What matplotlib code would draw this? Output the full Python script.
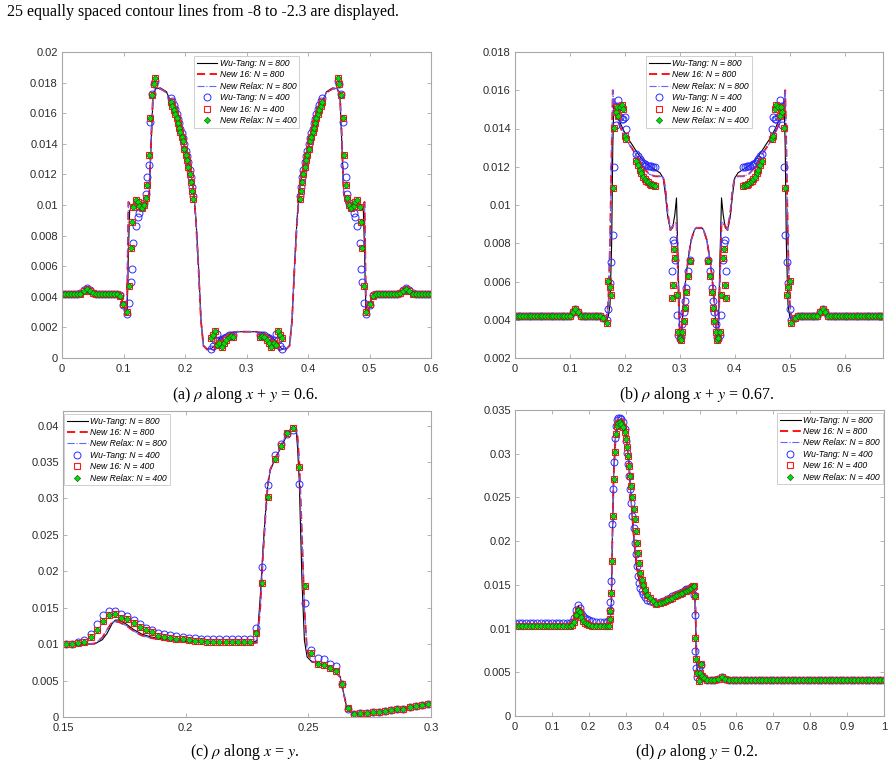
import matplotlib
matplotlib.use('Agg')
import matplotlib.pyplot as plt
import matplotlib.ticker as mticker

plt.rcParams['font.family'] = ['Liberation Sans', 'DejaVu Sans']
plt.rcParams['mathtext.fontset'] = 'stix'

# ---------------- panel (a): rho along x + y = 0.6 ----------------
a_line_x = [0.000, 0.020, 0.030, 0.040, 0.050, 0.060, 0.090, 0.096, 0.100, 0.104, 0.106, 0.108, 0.110, 0.114,
            0.120, 0.126, 0.132, 0.138, 0.142, 0.145, 0.148, 0.152, 0.160, 0.170, 0.180, 0.190, 0.200, 0.208,
            0.214, 0.218, 0.222, 0.226, 0.230, 0.236, 0.242, 0.247, 0.252, 0.258, 0.265, 0.275, 0.285, 0.300,
            0.315, 0.325, 0.335, 0.342, 0.348, 0.353, 0.358, 0.364, 0.370, 0.374, 0.378, 0.382, 0.386, 0.392,
            0.400, 0.410, 0.420, 0.430, 0.440, 0.448, 0.452, 0.455, 0.458, 0.462, 0.468, 0.474, 0.480, 0.486,
            0.490, 0.492, 0.494, 0.496, 0.500, 0.504, 0.510, 0.540, 0.550, 0.560, 0.570, 0.580, 0.600]
a_wt800 = [0.00418, 0.00418, 0.00425, 0.00450, 0.00428, 0.00418, 0.00418, 0.00405, 0.00340, 0.00285, 0.00300,
           0.00700, 0.00960, 0.01000, 0.01020, 0.01000, 0.00990, 0.01010, 0.01080, 0.01400, 0.01700, 0.01760,
           0.01765, 0.01740, 0.01640, 0.01530, 0.01380, 0.01250, 0.01100, 0.00900, 0.00600, 0.00250, 0.00080,
           0.00058, 0.00060, 0.00075, 0.00110, 0.00135, 0.00150, 0.00165, 0.00172, 0.00172,
           0.00172, 0.00165, 0.00150, 0.00135, 0.00110, 0.00075, 0.00060, 0.00058, 0.00080, 0.00250, 0.00600,
           0.00900, 0.01100, 0.01250, 0.01380, 0.01530, 0.01640, 0.01740, 0.01765, 0.01760, 0.01700, 0.01400,
           0.01080, 0.01010, 0.00990, 0.01000, 0.01020, 0.01000, 0.00960, 0.00700, 0.00300, 0.00285, 0.00340,
           0.00405, 0.00418, 0.00418, 0.00428, 0.00450, 0.00425, 0.00418, 0.00418]
a_new800 = [0.00418, 0.00418, 0.00425, 0.00452, 0.00428, 0.00418, 0.00418, 0.00400, 0.00330, 0.00280, 0.00420,
            0.01020, 0.01005, 0.00990, 0.01030, 0.01000, 0.00990, 0.01020, 0.01080, 0.01450, 0.01720, 0.01760,
            0.01760, 0.01735, 0.01630, 0.01520, 0.01370, 0.01240, 0.01090, 0.00880, 0.00580, 0.00240, 0.00080,
            0.00055, 0.00060, 0.00050, 0.00095, 0.00125, 0.00145, 0.00160, 0.00172, 0.00172,
            0.00172, 0.00160, 0.00145, 0.00125, 0.00095, 0.00050, 0.00060, 0.00055, 0.00080, 0.00240, 0.00580,
            0.00880, 0.01090, 0.01240, 0.01370, 0.01520, 0.01630, 0.01735, 0.01760, 0.01760, 0.01720, 0.01450,
            0.01080, 0.01020, 0.00990, 0.01000, 0.01030, 0.00990, 0.01005, 0.01020, 0.00420, 0.00280, 0.00330,
            0.00400, 0.00418, 0.00418, 0.00428, 0.00452, 0.00425, 0.00418, 0.00418]

a_mk_x = [0.000, 0.005, 0.010, 0.015, 0.020, 0.025, 0.030, 0.035, 0.040, 0.045, 0.050, 0.055, 0.060, 0.065,
          0.070, 0.075, 0.080, 0.085, 0.090,
          0.0945, 0.0990, 0.1052, 0.1095, 0.1122, 0.1138, 0.1162, 0.1197, 0.1230, 0.1260, 0.1295, 0.1330,
          0.1365, 0.1390, 0.1410, 0.1435, 0.1462, 0.1488, 0.1512,
          0.1767, 0.1794, 0.1821, 0.1843, 0.1864, 0.1886, 0.1908, 0.1924, 0.1946, 0.1967, 0.1984, 0.2011,
          0.2033, 0.2054, 0.2076, 0.2092, 0.2114, 0.2136,
          0.2423, 0.2450, 0.2488, 0.2526, 0.2558, 0.2596, 0.2634, 0.2667, 0.2710, 0.2748, 0.2786,
          0.3214, 0.3252, 0.3290, 0.3333, 0.3366, 0.3404, 0.3442, 0.3474, 0.3512, 0.3550, 0.3577,
          0.3864, 0.3886, 0.3908, 0.3924, 0.3946, 0.3967, 0.3989, 0.4016, 0.4033, 0.4054, 0.4076, 0.4092,
          0.4114, 0.4136, 0.4157, 0.4179, 0.4206, 0.4233,
          0.4488, 0.4512, 0.4538, 0.4565, 0.4590, 0.4610, 0.4635, 0.4670, 0.4705, 0.4740, 0.4770, 0.4803,
          0.4838, 0.4862, 0.4878, 0.4905, 0.4948, 0.5010, 0.5055,
          0.510, 0.515, 0.520, 0.525, 0.530, 0.535, 0.540, 0.545, 0.550, 0.555, 0.560, 0.565, 0.570, 0.575,
          0.580, 0.585, 0.590, 0.595, 0.600]
a_new400 = [0.00418, 0.00418, 0.00418, 0.00418, 0.00418, 0.00418, 0.00420, 0.00440, 0.00452, 0.00440, 0.00425,
            0.00418, 0.00418, 0.00418, 0.00418, 0.00418, 0.00418, 0.00418, 0.00418,
            0.00405, 0.00350, 0.00300, 0.00472, 0.00722, 0.00890, 0.00985, 0.01030, 0.01020, 0.00995, 0.00980,
            0.01000, 0.01045, 0.01130, 0.01330, 0.01570, 0.01720, 0.01790, 0.01832,
            0.01670, 0.01648, 0.01622, 0.01596, 0.01567, 0.01535, 0.01502, 0.01478, 0.01447, 0.01421, 0.01369,
            0.01327, 0.01295, 0.01251, 0.01203, 0.01153, 0.01094, 0.01037,
            0.00129, 0.00150, 0.00179, 0.00085, 0.00100, 0.00074, 0.00096, 0.00118, 0.00135, 0.00144, 0.00140,
            0.00140, 0.00144, 0.00135, 0.00118, 0.00096, 0.00074, 0.00100, 0.00085, 0.00179, 0.00150, 0.00129,
            0.01037, 0.01094, 0.01153, 0.01203, 0.01251, 0.01295, 0.01327, 0.01369, 0.01421, 0.01447, 0.01478,
            0.01502, 0.01535, 0.01567, 0.01596, 0.01622, 0.01648, 0.01670,
            0.01832, 0.01790, 0.01720, 0.01570, 0.01330, 0.01130, 0.01045, 0.01000, 0.00980, 0.00995, 0.01020,
            0.01030, 0.00985, 0.00890, 0.00722, 0.00472, 0.00300, 0.00350, 0.00405,
            0.00418, 0.00418, 0.00418, 0.00418, 0.00418, 0.00418, 0.00418, 0.00418, 0.00425, 0.00440, 0.00452,
            0.00440, 0.00420, 0.00418, 0.00418, 0.00418, 0.00418, 0.00418, 0.00418]
a_wt400 = [0.00418, 0.00418, 0.00418, 0.00418, 0.00418, 0.00418, 0.00422, 0.00445, 0.00458, 0.00445, 0.00428,
           0.00418, 0.00418, 0.00418, 0.00418, 0.00418, 0.00418, 0.00418, 0.00418,
           0.00410, 0.00345, 0.00285, 0.00360, 0.00500, 0.00580, 0.00750, 0.00860, 0.00920, 0.00950, 0.00990,
           0.01010, 0.01075, 0.01180, 0.01260, 0.01540, 0.01725, 0.01790, 0.01810,
           0.01700, 0.01680, 0.01655, 0.01625, 0.01595, 0.01565, 0.01535, 0.01500, 0.01470, 0.01440, 0.01400,
           0.01350, 0.01320, 0.01280, 0.01230, 0.01180, 0.01120, 0.01060,
           0.00060, 0.00080, 0.00120, 0.00160, 0.00120, 0.00100, 0.00130, 0.00140, 0.00150, 0.00150, 0.00150,
           0.00150, 0.00150, 0.00150, 0.00140, 0.00130, 0.00100, 0.00120, 0.00160, 0.00120, 0.00080, 0.00060,
           0.01060, 0.01120, 0.01180, 0.01230, 0.01280, 0.01320, 0.01350, 0.01400, 0.01440, 0.01470, 0.01500,
           0.01535, 0.01565, 0.01595, 0.01625, 0.01655, 0.01680, 0.01700,
           0.01810, 0.01790, 0.01725, 0.01540, 0.01260, 0.01180, 0.01075, 0.01010, 0.00990, 0.00950, 0.00920,
           0.00860, 0.00750, 0.00580, 0.00500, 0.00360, 0.00285, 0.00345, 0.00410,
           0.00418, 0.00418, 0.00418, 0.00418, 0.00418, 0.00418, 0.00418, 0.00418, 0.00428, 0.00445, 0.00458,
           0.00445, 0.00422, 0.00418, 0.00418, 0.00418, 0.00418, 0.00418, 0.00418]

# ---------------- panel (b): rho along x + y = 0.67 ----------------
b_line_x = [0.000, 0.095, 0.103, 0.110, 0.117, 0.125, 0.160, 0.166, 0.170, 0.173, 0.176, 0.178, 0.180, 0.182,
            0.185, 0.190, 0.197, 0.205, 0.212, 0.220, 0.227, 0.235, 0.245, 0.255, 0.264, 0.270, 0.274, 0.278,
            0.283, 0.287, 0.291, 0.294, 0.297, 0.300, 0.303, 0.307, 0.312, 0.317, 0.321, 0.327, 0.331, 0.335,
            0.339, 0.343, 0.349, 0.353, 0.358, 0.363, 0.367, 0.370, 0.373, 0.376, 0.379, 0.383, 0.387, 0.392,
            0.396, 0.400, 0.406, 0.415, 0.425, 0.435, 0.443, 0.450, 0.458, 0.465, 0.473, 0.480, 0.485, 0.488,
            0.490, 0.492, 0.494, 0.497, 0.500, 0.504, 0.510, 0.545, 0.553, 0.560, 0.567, 0.575, 0.670]
b_wt800 = [0.00418, 0.00418, 0.00430, 0.00455, 0.00435, 0.00420, 0.00420, 0.00390, 0.00420, 0.00480, 0.00800,
           0.01300, 0.01540, 0.01500, 0.01470, 0.01440, 0.01394, 0.01350, 0.01321, 0.01285, 0.01255, 0.01225,
           0.01203, 0.01185, 0.01168, 0.01140, 0.01050, 0.00940, 0.00871, 0.00880, 0.00950, 0.01037, 0.00700,
           0.00320, 0.00320, 0.00500, 0.00645, 0.00750, 0.00819, 0.00872, 0.00882, 0.00878,
           0.00882, 0.00872, 0.00819, 0.00750, 0.00645, 0.00500, 0.00320, 0.00320, 0.00700, 0.01037, 0.00950,
           0.00880, 0.00871, 0.00940, 0.01050, 0.01140, 0.01168, 0.01185, 0.01203, 0.01225, 0.01255, 0.01285,
           0.01321, 0.01350, 0.01394, 0.01440, 0.01470, 0.01500, 0.01540, 0.01300, 0.00800, 0.00480, 0.00420,
           0.00390, 0.00420, 0.00420, 0.00435, 0.00455, 0.00430, 0.00418, 0.00418]
b_new800 = [0.00418, 0.00418, 0.00430, 0.00455, 0.00435, 0.00420, 0.00420, 0.00385, 0.00500, 0.00800, 0.01300,
            0.01600, 0.01550, 0.01480, 0.01450, 0.01420, 0.01370, 0.01330, 0.01300, 0.01265, 0.01230, 0.01190,
            0.01160, 0.01150, 0.01150, 0.01145, 0.01080, 0.00960, 0.00868, 0.00890, 0.00905, 0.00910, 0.00600,
            0.00300, 0.00330, 0.00490, 0.00645, 0.00750, 0.00819, 0.00872, 0.00882, 0.00878,
            0.00882, 0.00872, 0.00819, 0.00750, 0.00645, 0.00490, 0.00330, 0.00300, 0.00600, 0.00910, 0.00905,
            0.00890, 0.00868, 0.00960, 0.01080, 0.01145, 0.01150, 0.01150, 0.01160, 0.01190, 0.01230, 0.01265,
            0.01300, 0.01330, 0.01370, 0.01420, 0.01450, 0.01480, 0.01550, 0.01600, 0.01300, 0.00800, 0.00500,
            0.00385, 0.00420, 0.00420, 0.00435, 0.00455, 0.00430, 0.00418, 0.00418]

b_mk_x = [0.000, 0.005, 0.010, 0.015, 0.020, 0.025, 0.030, 0.035, 0.040, 0.045, 0.050, 0.055, 0.060, 0.065,
          0.070, 0.075, 0.080, 0.085, 0.090, 0.095, 0.100, 0.105, 0.110, 0.115, 0.120, 0.125, 0.130, 0.135,
          0.140, 0.145, 0.150, 0.155, 0.160,
          0.1667, 0.1700, 0.1727, 0.1745, 0.1776, 0.1806, 0.1836, 0.1861, 0.1879, 0.1912, 0.1939, 0.1964,
          0.2000, 0.2030,
          0.2212, 0.2242, 0.2273, 0.2303, 0.2333, 0.2364, 0.2394, 0.2424, 0.2455, 0.2485, 0.2515, 0.2545,
          0.2860, 0.2875, 0.2895, 0.2905, 0.2952, 0.2975, 0.2995, 0.3018, 0.3048, 0.3073, 0.3100, 0.3121,
          0.3152, 0.3182,
          0.3518, 0.3548, 0.3579, 0.3600, 0.3627, 0.3652, 0.3682, 0.3705, 0.3725, 0.3748, 0.3795, 0.3805,
          0.3825, 0.3840,
          0.4155, 0.4185, 0.4215, 0.4245, 0.4276, 0.4306, 0.4336, 0.4367, 0.4397, 0.4427, 0.4458, 0.4488,
          0.4670, 0.4700, 0.4736, 0.4761, 0.4788, 0.4821, 0.4839, 0.4864, 0.4894, 0.4924, 0.4955, 0.4973,
          0.5000, 0.5033,
          0.510, 0.515, 0.520, 0.525, 0.530, 0.535, 0.540, 0.545, 0.550, 0.555, 0.560, 0.565, 0.570, 0.575,
          0.580, 0.585, 0.590, 0.595, 0.600, 0.605, 0.610, 0.615, 0.620, 0.625, 0.630, 0.635, 0.640, 0.645,
          0.650, 0.655, 0.660, 0.665, 0.670]
b_new400 = [0.00418, 0.00418, 0.00418, 0.00418, 0.00418, 0.00418, 0.00418, 0.00418, 0.00418, 0.00418, 0.00418,
            0.00418, 0.00418, 0.00418, 0.00418, 0.00418, 0.00418, 0.00418, 0.00418, 0.00418, 0.00420, 0.00440,
            0.00455, 0.00440, 0.00422, 0.00418, 0.00418, 0.00418, 0.00418, 0.00418, 0.00418, 0.00418, 0.00410,
            0.00383, 0.00604, 0.00573, 0.00528, 0.01087, 0.01405, 0.01485, 0.01510, 0.01465, 0.01510, 0.01522,
            0.01503, 0.01362, 0.01346,
            0.01229, 0.01208, 0.01185, 0.01168, 0.01147, 0.01135, 0.01126, 0.01118, 0.01112, 0.01107, 0.01103,
            0.01100,
            0.00514, 0.00584, 0.00770, 0.00723, 0.00528, 0.00335, 0.00305, 0.00296, 0.00335, 0.00392, 0.00460,
            0.00545, 0.00627, 0.00705,
            0.00705, 0.00627, 0.00545, 0.00460, 0.00392, 0.00335, 0.00296, 0.00305, 0.00335, 0.00528, 0.00723,
            0.00770, 0.00584, 0.00514,
            0.01100, 0.01103, 0.01107, 0.01112, 0.01118, 0.01126, 0.01135, 0.01147, 0.01168, 0.01185, 0.01208,
            0.01229,
            0.01346, 0.01362, 0.01503, 0.01522, 0.01510, 0.01465, 0.01510, 0.01485, 0.01405, 0.01087, 0.00528,
            0.00573, 0.00604, 0.00383,
            0.00410, 0.00418, 0.00418, 0.00418, 0.00418, 0.00418, 0.00418, 0.00418, 0.00422, 0.00440, 0.00455,
            0.00440, 0.00420, 0.00418, 0.00418, 0.00418, 0.00418, 0.00418, 0.00418, 0.00418, 0.00418, 0.00418,
            0.00418, 0.00418, 0.00418, 0.00418, 0.00418, 0.00418, 0.00418, 0.00418, 0.00418, 0.00418, 0.00418]
b_wt400 = [0.00418, 0.00418, 0.00418, 0.00418, 0.00418, 0.00418, 0.00418, 0.00418, 0.00418, 0.00418, 0.00418,
           0.00418, 0.00418, 0.00418, 0.00418, 0.00418, 0.00418, 0.00418, 0.00418, 0.00418, 0.00420, 0.00440,
           0.00455, 0.00440, 0.00422, 0.00418, 0.00418, 0.00418, 0.00418, 0.00418, 0.00418, 0.00418, 0.00410,
           0.00400, 0.00455, 0.00590, 0.00700, 0.00845, 0.01200, 0.01420, 0.01520, 0.01550, 0.01460, 0.01450,
           0.01450, 0.01460, 0.01400,
           0.01265, 0.01255, 0.01240, 0.01232, 0.01222, 0.01215, 0.01208, 0.01205, 0.01203, 0.01202, 0.01200,
           0.01200,
           0.00653, 0.00819, 0.00800, 0.00714, 0.00427, 0.00320, 0.00300, 0.00310, 0.00380, 0.00440, 0.00500,
           0.00566, 0.00653, 0.00714,
           0.00714, 0.00653, 0.00566, 0.00500, 0.00440, 0.00380, 0.00310, 0.00300, 0.00320, 0.00427, 0.00714,
           0.00800, 0.00819, 0.00653,
           0.01200, 0.01200, 0.01202, 0.01203, 0.01205, 0.01208, 0.01215, 0.01222, 0.01232, 0.01240, 0.01255,
           0.01265,
           0.01400, 0.01460, 0.01450, 0.01450, 0.01460, 0.01550, 0.01520, 0.01420, 0.01200, 0.00845, 0.00700,
           0.00590, 0.00455, 0.00400,
           0.00410, 0.00418, 0.00418, 0.00418, 0.00418, 0.00418, 0.00418, 0.00418, 0.00422, 0.00440, 0.00455,
           0.00440, 0.00420, 0.00418, 0.00418, 0.00418, 0.00418, 0.00418, 0.00418, 0.00418, 0.00418, 0.00418,
           0.00418, 0.00418, 0.00418, 0.00418, 0.00418, 0.00418, 0.00418, 0.00418, 0.00418, 0.00418, 0.00418]

# ---------------- panel (c): rho along x = y ----------------
c_line_x = [0.150, 0.160, 0.163, 0.166, 0.168, 0.170, 0.1713, 0.173, 0.176, 0.1788, 0.182, 0.1856, 0.1924,
            0.1992, 0.2128, 0.2264, 0.2291, 0.2304, 0.2315, 0.2325, 0.2335, 0.2345, 0.2365, 0.2386, 0.2406,
            0.2427, 0.2440, 0.2450, 0.2456, 0.2463, 0.2474, 0.2484, 0.2495, 0.2515, 0.2542, 0.2569, 0.2603,
            0.2630, 0.2644, 0.2658, 0.2685, 0.2739, 0.2807, 0.2875, 0.2943, 0.3000]
c_wt800 = [0.01000, 0.01000, 0.01005, 0.01060, 0.01150, 0.01280, 0.01330, 0.01330, 0.01270, 0.01200, 0.01140,
           0.01100, 0.01060, 0.01040, 0.01020, 0.01007, 0.01050, 0.01648, 0.02300, 0.02790, 0.03200, 0.03387,
           0.03547, 0.03684, 0.03822, 0.03936, 0.03990, 0.03960, 0.03700, 0.03250, 0.01876, 0.01053, 0.00824,
           0.00755, 0.00741, 0.00709, 0.00641, 0.00549, 0.00320, 0.00114, 0.00046, 0.00055, 0.00078, 0.00114,
           0.00151, 0.00192]
c_new800 = [0.01000, 0.01000, 0.01010, 0.01090, 0.01200, 0.01300, 0.01310, 0.01300, 0.01250, 0.01180, 0.01120,
            0.01085, 0.01050, 0.01035, 0.01020, 0.01007, 0.01020, 0.01500, 0.02200, 0.02750, 0.03200, 0.03400,
            0.03550, 0.03700, 0.03850, 0.03950, 0.03990, 0.03950, 0.03850, 0.03500, 0.02500, 0.01500, 0.00900,
            0.00760, 0.00740, 0.00710, 0.00640, 0.00550, 0.00330, 0.00110, 0.00046, 0.00055, 0.00078, 0.00114,
            0.00151, 0.00192]
c_mk_x = [0.15125, 0.15375, 0.15625, 0.15875, 0.16125, 0.16375, 0.16625, 0.16875, 0.17125, 0.17375, 0.17625,
          0.17875, 0.18125, 0.18375, 0.18625, 0.18875, 0.19125, 0.19375, 0.19625, 0.19875, 0.20125, 0.20375,
          0.20625, 0.20875, 0.21125, 0.21375, 0.21625, 0.21875, 0.22125, 0.22375, 0.22625, 0.22875, 0.23125,
          0.23375, 0.23625, 0.23875, 0.24125, 0.24375, 0.24625, 0.24875, 0.25125, 0.25375, 0.25625, 0.25875,
          0.26125, 0.26375, 0.26625, 0.26875, 0.27125, 0.27375, 0.27625, 0.27875, 0.28125, 0.28375, 0.28625,
          0.28875, 0.29125, 0.29375, 0.29625, 0.29875]
c_new400 = [0.01007, 0.01007, 0.01016, 0.01030, 0.01098, 0.01190, 0.01318, 0.01396, 0.01410, 0.01364, 0.01346,
            0.01291, 0.01236, 0.01199, 0.01167, 0.01117, 0.01094, 0.01080, 0.01071, 0.01066, 0.01053, 0.01048,
            0.01039, 0.01034, 0.01034, 0.01030, 0.01030, 0.01030, 0.01030, 0.01030, 0.01030, 0.01153, 0.01840,
            0.03020, 0.03538, 0.03721, 0.03904, 0.03968, 0.03432, 0.01803, 0.00879, 0.00732, 0.00709, 0.00677,
            0.00627, 0.00458, 0.00124, 0.00046, 0.00055, 0.00055, 0.00064, 0.00073, 0.00078, 0.00092, 0.00105,
            0.00114, 0.00137, 0.00146, 0.00160, 0.00178]
c_wt400 = [0.01007, 0.01007, 0.01030, 0.01062, 0.01144, 0.01277, 0.01396, 0.01451, 0.01451, 0.01419, 0.01387,
           0.01327, 0.01272, 0.01222, 0.01190, 0.01158, 0.01135, 0.01121, 0.01108, 0.01094, 0.01089, 0.01085,
           0.01076, 0.01071, 0.01071, 0.01071, 0.01071, 0.01071, 0.01071, 0.01071, 0.01076, 0.01227, 0.02060,
           0.03181, 0.03593, 0.03753, 0.03890, 0.03936, 0.03204, 0.01565, 0.00924, 0.00815, 0.00801, 0.00732,
           0.00696, 0.00449, 0.00114, 0.00046, 0.00055, 0.00055, 0.00064, 0.00073, 0.00078, 0.00092, 0.00105,
           0.00114, 0.00137, 0.00146, 0.00160, 0.00178]

# ---------------- panel (d): rho along y = 0.2 ----------------
d_line_x = [0.000, 0.150, 0.158, 0.163, 0.168, 0.172, 0.177, 0.183, 0.190, 0.200, 0.220, 0.250, 0.256, 0.259,
            0.261, 0.2638, 0.2674, 0.2728, 0.2791, 0.2882, 0.2972, 0.3017, 0.3062, 0.3107, 0.3152, 0.3198,
            0.3243, 0.3288, 0.3378, 0.3514, 0.3649, 0.3830, 0.3920, 0.4101, 0.4372, 0.4643, 0.4823, 0.4868,
            0.4895, 0.4913, 0.4958, 0.5004, 0.5500, 0.5600, 0.5700, 1.0000]
d_wt800 = [0.01050, 0.01050, 0.01070, 0.01150, 0.01240, 0.01260, 0.01200, 0.01120, 0.01080, 0.01065, 0.01055,
           0.01050, 0.01060, 0.01150, 0.01263, 0.02020, 0.02790, 0.03250, 0.03350, 0.03400, 0.03350, 0.03200,
           0.03010, 0.02740, 0.02430, 0.02130, 0.01900, 0.01710, 0.01520, 0.01400, 0.01350, 0.01290, 0.01270,
           0.01310, 0.01370, 0.01420, 0.01460, 0.01440, 0.01020, 0.00640, 0.00450, 0.00410, 0.00410, 0.00440,
           0.00410, 0.00410]
d_new800 = [0.01045, 0.01045, 0.01050, 0.01120, 0.01215, 0.01225, 0.01180, 0.01100, 0.01070, 0.01060, 0.01050,
            0.01045, 0.01060, 0.01150, 0.01263, 0.02000, 0.02750, 0.03200, 0.03320, 0.03370, 0.03330, 0.03200,
            0.03030, 0.02770, 0.02470, 0.02180, 0.01950, 0.01760, 0.01560, 0.01420, 0.01360, 0.01300, 0.01285,
            0.01315, 0.01370, 0.01420, 0.01470, 0.01460, 0.01200, 0.00800, 0.00480, 0.00410, 0.00410, 0.00440,
            0.00410, 0.00410]
d_mk_x = [0.000, 0.010, 0.020, 0.030, 0.040, 0.050, 0.060, 0.070, 0.080, 0.090, 0.100, 0.110, 0.120, 0.130,
          0.140, 0.150,
          0.155, 0.160, 0.165, 0.170, 0.175, 0.180, 0.185, 0.190, 0.195, 0.200, 0.210, 0.220, 0.230, 0.240,
          0.250,
          0.2547, 0.2566, 0.2584, 0.2611, 0.2638, 0.2656, 0.2674, 0.2702, 0.2729, 0.2765, 0.2801, 0.2837,
          0.2882, 0.2928, 0.2973, 0.3000, 0.3036, 0.3063, 0.3090, 0.3127, 0.3154, 0.3181, 0.3217, 0.3244,
          0.3271, 0.3307, 0.3334, 0.3361, 0.3398, 0.3434, 0.3470, 0.3515, 0.3578, 0.3651, 0.3741, 0.3831,
          0.3922, 0.4000, 0.4057, 0.4125, 0.4193, 0.4260, 0.4328, 0.4400, 0.4464, 0.4530, 0.4600, 0.4645,
          0.4690, 0.4735, 0.4780, 0.4825, 0.4853, 0.4871, 0.4889, 0.4916, 0.4943, 0.4988, 0.5024, 0.5051,
          0.5078, 0.5114,
          0.520, 0.530, 0.540, 0.550, 0.560, 0.570, 0.580, 0.590, 0.600, 0.610, 0.620, 0.630, 0.640, 0.650,
          0.660, 0.670, 0.680, 0.690, 0.700, 0.710, 0.720, 0.730, 0.740, 0.750, 0.760, 0.770, 0.780, 0.790,
          0.800, 0.810, 0.820, 0.830, 0.840, 0.850, 0.860, 0.870, 0.880, 0.890, 0.900, 0.910, 0.920, 0.930,
          0.940, 0.950, 0.960, 0.970, 0.980, 0.990, 1.000]
d_new400 = [0.01025, 0.01025, 0.01025, 0.01025, 0.01025, 0.01025, 0.01025, 0.01025, 0.01025, 0.01025, 0.01025,
            0.01025, 0.01025, 0.01025, 0.01025, 0.01025,
            0.01040, 0.01080, 0.01160, 0.01210, 0.01190, 0.01130, 0.01090, 0.01060, 0.01050, 0.01040, 0.01035,
            0.01030, 0.01030, 0.01030, 0.01030,
            0.01033, 0.01110, 0.01197, 0.01408, 0.01770, 0.02290, 0.02708, 0.03020, 0.03225, 0.03313, 0.03351,
            0.03358, 0.03340, 0.03302, 0.03244, 0.03168, 0.03072, 0.02977, 0.02862, 0.02747, 0.02632, 0.02510,
            0.02365, 0.02250, 0.02116, 0.01982, 0.01867, 0.01752, 0.01637, 0.01560, 0.01503, 0.01446, 0.01389,
            0.01350, 0.01312, 0.01285, 0.01293, 0.01300, 0.01312, 0.01325, 0.01339, 0.01355, 0.01369, 0.01383,
            0.01396, 0.01410, 0.01427, 0.01435, 0.01446, 0.01455, 0.01465, 0.01484, 0.01492, 0.01369, 0.00891,
            0.00651, 0.00490, 0.00406, 0.00490, 0.00600, 0.00452, 0.00433,
            0.00410, 0.00410, 0.00410, 0.00420, 0.00442, 0.00420, 0.00410, 0.00410, 0.00410, 0.00410, 0.00410,
            0.00410, 0.00410, 0.00410, 0.00410, 0.00410, 0.00410, 0.00410, 0.00410, 0.00410, 0.00410, 0.00410,
            0.00410, 0.00410, 0.00410, 0.00410, 0.00410, 0.00410, 0.00410, 0.00410, 0.00410, 0.00410, 0.00410,
            0.00410, 0.00410, 0.00410, 0.00410, 0.00410, 0.00410, 0.00410, 0.00410, 0.00410, 0.00410, 0.00410,
            0.00410, 0.00410, 0.00410, 0.00410, 0.00410]
d_wt400 = [0.01060, 0.01060, 0.01060, 0.01060, 0.01060, 0.01060, 0.01060, 0.01060, 0.01060, 0.01060, 0.01060,
           0.01060, 0.01060, 0.01060, 0.01060, 0.01060,
           0.01080, 0.01120, 0.01210, 0.01270, 0.01240, 0.01180, 0.01140, 0.01120, 0.01110, 0.01100, 0.01090,
           0.01080, 0.01080, 0.01080, 0.01080,
           0.01100, 0.01210, 0.01300, 0.01540, 0.02200, 0.02600, 0.02900, 0.03180, 0.03320, 0.03380, 0.03410,
           0.03410, 0.03400, 0.03360, 0.03280, 0.03150, 0.03010, 0.02880, 0.02750, 0.02600, 0.02440, 0.02290,
           0.02150, 0.01980, 0.01850, 0.01710, 0.01600, 0.01520, 0.01460, 0.01430, 0.01390, 0.01360, 0.01330,
           0.01310, 0.01300, 0.01290, 0.01300, 0.01310, 0.01320, 0.01340, 0.01350, 0.01370, 0.01380, 0.01400,
           0.01410, 0.01420, 0.01440, 0.01450, 0.01450, 0.01460, 0.01470, 0.01460, 0.01380, 0.01160, 0.00740,
           0.00550, 0.00450, 0.00530, 0.00470, 0.00580, 0.00450, 0.00430,
           0.00410, 0.00410, 0.00410, 0.00420, 0.00442, 0.00420, 0.00410, 0.00410, 0.00410, 0.00410, 0.00410,
           0.00410, 0.00410, 0.00410, 0.00410, 0.00410, 0.00410, 0.00410, 0.00410, 0.00410, 0.00410, 0.00410,
           0.00410, 0.00410, 0.00410, 0.00410, 0.00410, 0.00410, 0.00410, 0.00410, 0.00410, 0.00410, 0.00410,
           0.00410, 0.00410, 0.00410, 0.00410, 0.00410, 0.00410, 0.00410, 0.00410, 0.00410, 0.00410, 0.00410,
           0.00410, 0.00410, 0.00410, 0.00410, 0.00410]

labels = ['Wu-Tang: N = 800', 'New 16: N = 800', 'New Relax: N = 800',
          'Wu-Tang: N = 400', 'New 16: N = 400', 'New Relax: N = 400']
captions = [r'(a) $\rho$ along $x$ + $y$ = 0.6.', r'(b) $\rho$ along $x$ + $y$ = 0.67.',
            r'(c) $\rho$ along $x$ = $y$.', r'(d) $\rho$ along $y$ = 0.2.']

GRAY = '#a8a8a8'


def draw_panel(ax, lx, l_wt, l_new, mx, m_wt, m_new, xlim, ylim, xticks, yticks):
    ax.plot(lx, l_wt, '-', color='black', lw=0.8, label=labels[0])
    ax.plot(lx, l_new, '--', color='#ff0000', lw=1.3, dashes=(4.5, 2.5), label=labels[1])
    ax.plot(lx, l_new, '-.', color='#6464ff', lw=0.8, label=labels[2])
    ax.plot(mx, m_wt, 'o', ls='none', mfc='none', mec='#2b2bff', ms=5.0, mew=0.7, label=labels[3])
    ax.plot(mx, m_new, 's', ls='none', mfc='none', mec='#ff1a1a', ms=4.6, mew=0.8, label=labels[4])
    ax.plot(mx, m_new, 'D', ls='none', mfc='#00e000', mec='#1f5f1f', ms=3.2, mew=0.5, label=labels[5])
    ax.set_xlim(xlim)
    ax.set_ylim(ylim)
    ax.set_xticks(xticks)
    ax.set_yticks(yticks)
    fmt = mticker.FuncFormatter(lambda v, p: '%g' % round(v, 6))
    ax.xaxis.set_major_formatter(fmt)
    ax.yaxis.set_major_formatter(fmt)
    ax.tick_params(direction='in', top=True, right=True, length=3, width=0.6, color=GRAY,
                   labelsize=8, labelcolor='#2a2a2a')
    ax.tick_params(axis='x', pad=4)
    ax.tick_params(axis='y', pad=3)
    for s in ax.spines.values():
        s.set_color(GRAY)
        s.set_linewidth(0.8)


def add_legend(ax, loc, anchor, pad):
    leg = ax.legend(loc=loc, bbox_to_anchor=anchor, borderaxespad=pad, fancybox=False,
                    framealpha=1, edgecolor='#c8c8c8', handlelength=2.4, handletextpad=0.3,
                    labelspacing=0.28, borderpad=0.3,
                    prop={'family': 'Liberation Sans', 'style': 'italic', 'size': 6.2})
    leg.get_frame().set_linewidth(0.6)


fig = plt.figure(figsize=(8.94, 7.67), dpi=100)

ax_a = fig.add_axes([62 / 894, 1 - 358 / 767, 369 / 894, 306 / 767])
draw_panel(ax_a, a_line_x, a_wt800, a_new800, a_mk_x, a_wt400, a_new400, (0, 0.6), (0, 0.02),
           [0, 0.1, 0.2, 0.3, 0.4, 0.5, 0.6],
           [0, 0.002, 0.004, 0.006, 0.008, 0.01, 0.012, 0.014, 0.016, 0.018, 0.02])
add_legend(ax_a, 'upper center', (0.5, 1.0), 0.5)

ax_b = fig.add_axes([515 / 894, 1 - 358 / 767, 368 / 894, 306 / 767])
draw_panel(ax_b, b_line_x, b_wt800, b_new800, b_mk_x, b_wt400, b_new400, (0, 0.67), (0.002, 0.018),
           [0, 0.1, 0.2, 0.3, 0.4, 0.5, 0.6],
           [0.002, 0.004, 0.006, 0.008, 0.01, 0.012, 0.014, 0.016, 0.018])
add_legend(ax_b, 'upper center', (0.5, 1.0), 0.5)

ax_c = fig.add_axes([63 / 894, 1 - 717 / 767, 368 / 894, 306 / 767])
draw_panel(ax_c, c_line_x, c_wt800, c_new800, c_mk_x, c_wt400, c_new400, (0.15, 0.3), (0, 0.042),
           [0.15, 0.2, 0.25, 0.3],
           [0, 0.005, 0.01, 0.015, 0.02, 0.025, 0.03, 0.035, 0.04])
add_legend(ax_c, 'upper left', (0.004, 0.99), 0.0)

ax_d = fig.add_axes([515 / 894, 1 - 716 / 767, 369 / 894, 306 / 767])
draw_panel(ax_d, d_line_x, d_wt800, d_new800, d_mk_x, d_wt400, d_new400, (0, 1), (0, 0.035),
           [0, 0.1, 0.2, 0.3, 0.4, 0.5, 0.6, 0.7, 0.8, 0.9, 1],
           [0, 0.005, 0.01, 0.015, 0.02, 0.025, 0.03, 0.035])
add_legend(ax_d, 'upper right', (0.996, 0.99), 0.0)

serif = {'family': 'Liberation Serif', 'size': 11.5, 'color': 'black'}
fig.text(7 / 894, 1 - 12 / 767, '25 equally spaced contour lines from -8 to -2.3 are displayed.',
         ha='left', va='center', fontdict=serif)
fig.text(245 / 894, 1 - 395 / 767, captions[0], ha='center', va='center', fontdict=serif)
fig.text(697 / 894, 1 - 395 / 767, captions[1], ha='center', va='center', fontdict=serif)
fig.text(245 / 894, 1 - 752 / 767, captions[2], ha='center', va='center', fontdict=serif)
fig.text(697 / 894, 1 - 752 / 767, captions[3], ha='center', va='center', fontdict=serif)

fig.savefig('out.png', dpi=100)
